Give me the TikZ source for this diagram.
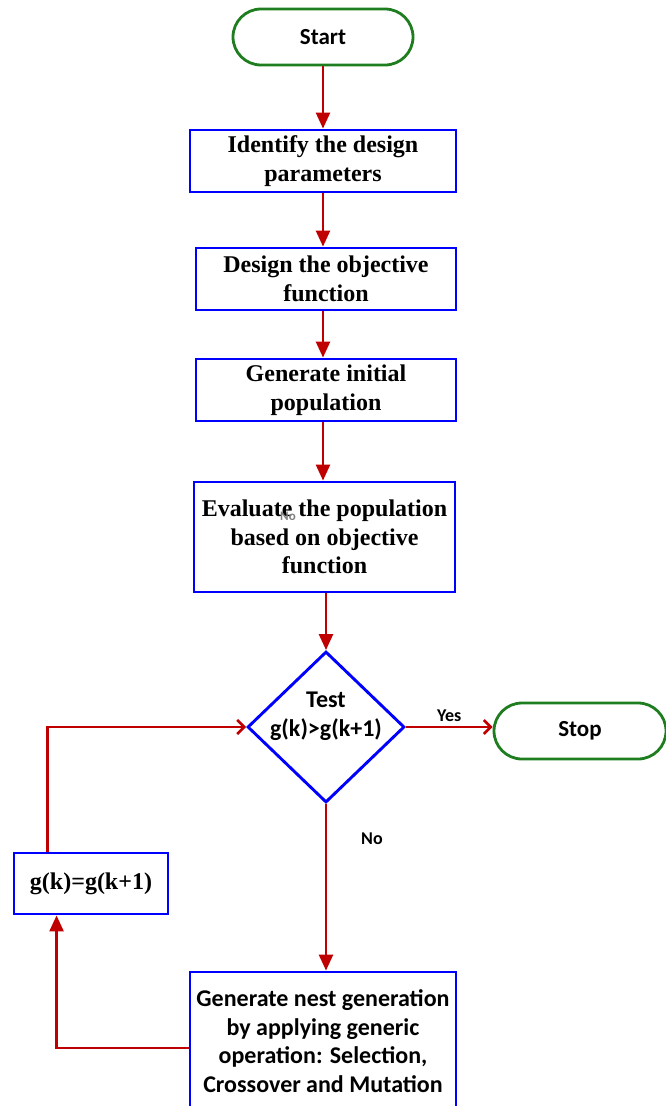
\documentclass[tikz,border=0pt]{standalone}
\usepackage{fontspec}
\setmainfont{Liberation Serif}
\newfontfamily\calib{Carlito}
\usetikzlibrary{arrows.meta,shapes.geometric,calc}
\definecolor{arrred}{RGB}{192,0,0}
\definecolor{boxblue}{RGB}{0,0,255}
\definecolor{termgreen}{RGB}{30,125,30}
\tikzset{
  procbox/.style={draw=boxblue, line width=2.9pt, align=center, inner sep=0pt,
    font=\bfseries\fontsize{24}{28.5}\selectfont},
  calbox/.style={procbox, font=\calib\bfseries\fontsize{24}{28.5}\selectfont},
  terminal/.style={draw=termgreen, line width=2.8pt, rounded corners=28pt, inner sep=0pt,
    font=\calib\bfseries\fontsize{23}{28}\selectfont},
  flow/.style={draw=arrred, line width=2.6pt, -{Triangle[length=16pt,width=14pt]}},
  openflow/.style={draw=arrred, line width=2.6pt, -{Straight Barb[length=7pt,width=14pt,line width=2.6pt]}},
  smalllab/.style={font=\calib\bfseries\fontsize{18}{21}\selectfont, inner sep=0pt}
}
\begin{document}
\begin{tikzpicture}[x=1pt,y=-1pt]
\useasboundingbox (0,0) rectangle (665,1106);
\node[terminal, minimum width=180pt, minimum height=56pt] (start) at (323,37) {Start};
\node[procbox, minimum width=266pt, minimum height=62pt] (b1) at (323,161) {Identify the design\\parameters};
\node[procbox, minimum width=260pt, minimum height=62pt] (b2) at (326,279) {Design the objective\\function};
\node[procbox, minimum width=260pt, minimum height=62pt] (b3) at (326,390) {Generate initial\\population};
\node[procbox, minimum width=261pt, minimum height=110pt] (b4) at (324.5,537) {Evaluate the population\\based on objective\\function};
\node[smalllab, font=\calib\bfseries\fontsize{13}{15}\selectfont, text=gray] (grayno) at (288,516) {No};
\node[draw=boxblue, line width=2.9pt, diamond, aspect=1, minimum width=157pt, minimum height=151pt, inner sep=0pt] (dia) at (326,727) {};
\node[font=\calib\bfseries\fontsize{24}{28.5}\selectfont, align=center, inner sep=0pt] (diatext) at (326,716) {Test\\g(k)>g(k+1)};
\node[terminal, minimum width=172pt, minimum height=56pt] (stop) at (580,731) {Stop};
\node[procbox, minimum width=154pt, minimum height=61pt] (g) at (91,883.5) {g(k)=g(k+1)};
\node[calbox, minimum width=266pt, minimum height=138pt] (bot) at (323,1041) {Generate nest generation\\by applying generic\\operation: Selection,\\Crossover and Mutation};

\draw[flow] (start.south) -- (b1.north);
\draw[flow] (b1.south) -- (b1.south |- b2.north);
\draw[flow] (b1.south |- b2.south) -- (b1.south |- b3.north);
\draw[flow] (b1.south |- b3.south) -- (b1.south |- b4.north);
\draw[flow] (dia.north |- b4.south) -- (dia.north);
\draw[openflow] (dia.east) -- (dia.east -| stop.west) node[midway, above=4pt, smalllab] (yes) {Yes};
\draw[flow] (dia.south) -- (dia.south |- bot.north);
\node[smalllab] (no) at (372,839) {No};
\coordinate (botout) at ($(bot.west)+(0,7)$);
\coordinate (gin) at ($(g.south west)+(44,0)$);
\draw[flow] (botout) -| (gin);
\coordinate (gout) at ($(g.north west)+(35,0)$);
\draw[openflow] (gout) |- (dia.west);
\end{tikzpicture}
\end{document}
